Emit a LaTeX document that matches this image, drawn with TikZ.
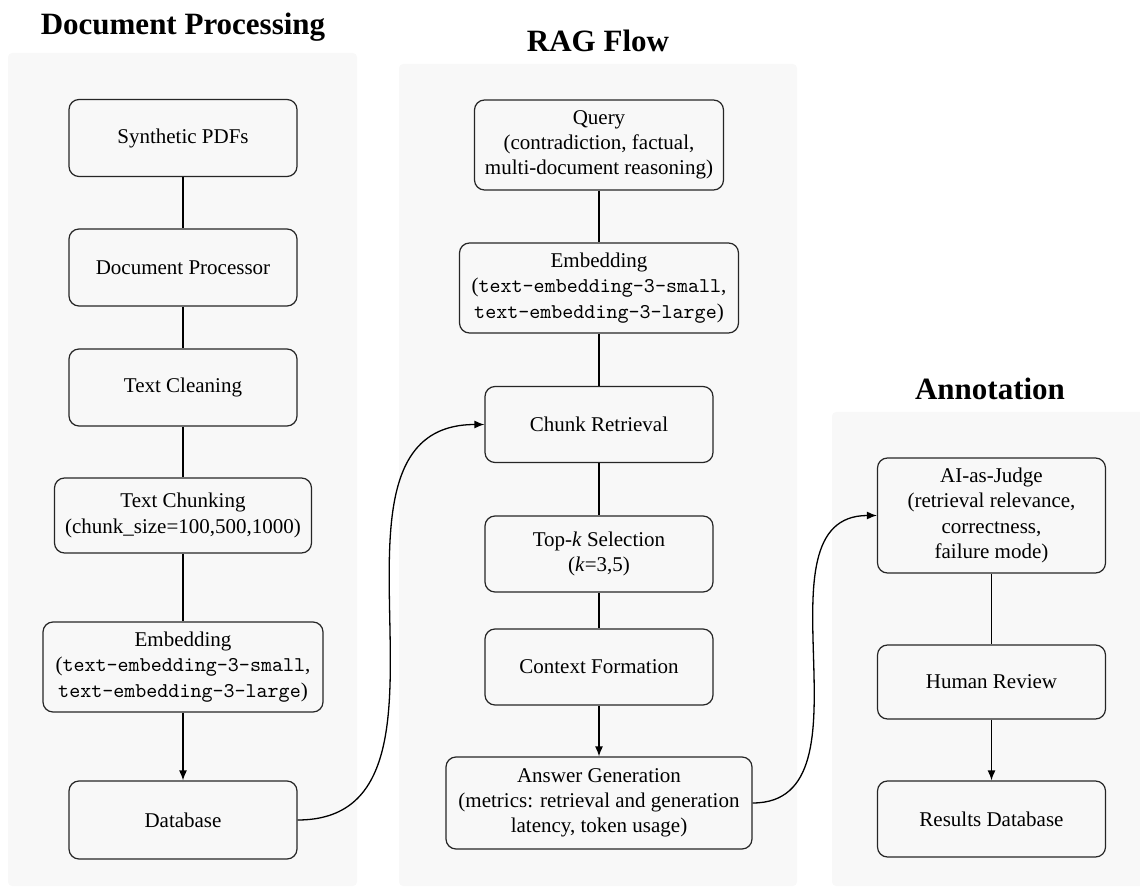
\documentclass[tikz,border=0pt]{standalone}
\usepackage{fontspec}
\setmainfont{Liberation Serif}
\usetikzlibrary{arrows.meta}
\definecolor{panelgray}{RGB}{248,248,248}
\begin{document}
\begin{tikzpicture}[x=0.5pt,y=-0.5pt,
  box/.style={draw=black!85,line width=0.6pt,rounded corners=5pt,align=center,
    font=\fontsize{10.5}{12.6}\selectfont,inner sep=2pt},
  ttl/.style={font=\fontsize{15.5}{18}\selectfont\bfseries,anchor=base,inner sep=0pt},
  ln/.style={draw=black,line width=0.65pt},
  arr/.style={ln,-{Latex[length=5pt,width=4pt]}}]
\useasboundingbox (0,0) rectangle (1140,892);
% panels
\fill[panelgray,rounded corners=2pt] (8,53) rectangle (357,886);
\fill[panelgray,rounded corners=2pt] (399,64) rectangle (797,886);
\fill[panelgray,rounded corners=2pt] (832,412) rectangle (1148,886);
% titles
\node[ttl] (t1) at (183,35) {Document Processing};
\node[ttl] (t2) at (598,52) {RAG Flow};
\node[ttl] (t3) at (990,400) {Annotation};
% column 1
\node[box,minimum width=114pt,minimum height=38.5pt] (syn) at (183,138) {Synthetic PDFs};
\node[box,minimum width=114pt,minimum height=38.5pt] (proc) at (183,267.5) {Document Processor};
\node[box,minimum width=114pt,minimum height=38.5pt] (clean) at (183,387.5) {Text Cleaning};
\node[box,minimum width=128.5pt,minimum height=37.5pt] (chunkg) at (183,515.5) {Text Chunking\\(chunk\_size=100,500,1000)};
\node[box,minimum width=140pt,minimum height=45pt] (emb1) at (183,667) {Embedding\\(\texttt{text-embedding-3-small},\\\texttt{text-embedding-3-large})};
\node[box,minimum width=114pt,minimum height=39pt] (db) at (183,820) {Database};
% column 2
\node[box,minimum width=124.5pt,minimum height=45pt] (query) at (599,145) {Query\\(contradiction, factual,\\multi-document reasoning)};
\node[box,minimum width=139.5pt,minimum height=45pt] (emb2) at (599,288) {Embedding\\(\texttt{text-embedding-3-small},\\\texttt{text-embedding-3-large})};
\node[box,minimum width=114pt,minimum height=38pt] (chunkr) at (599,424.5) {Chunk Retrieval};
\node[box,minimum width=114pt,minimum height=38pt] (topk) at (599,554) {Top-\textit{k} Selection\\(\textit{k}=3,5)};
\node[box,minimum width=114pt,minimum height=38pt] (ctx) at (599,667) {Context Formation};
\node[box,minimum width=153pt,minimum height=46pt] (ans) at (599,803) {Answer Generation\\(metrics: retrieval and generation\\latency, token usage)};
% column 3
\node[box,minimum width=114pt,minimum height=57.5pt] (judge) at (991.5,515.5) {AI-as-Judge\\(retrieval relevance,\\correctness,\\failure mode)};
\node[box,minimum width=114pt,minimum height=37pt] (human) at (991.5,682) {Human Review};
\node[box,minimum width=114pt,minimum height=38pt] (res) at (991.5,819) {Results Database};
% connectors
\draw[ln] (syn) -- (proc);
\draw[ln] (proc) -- (clean);
\draw[ln] (clean) -- (chunkg);
\draw[ln] (chunkg) -- (emb1);
\draw[arr] (emb1) -- (db);
\draw[ln] (query) -- (emb2);
\draw[ln] (emb2) -- (chunkr);
\draw[ln] (chunkr) -- (topk);
\draw[ln] (topk) -- (ctx);
\draw[arr] (ctx) -- (ans);
\draw[ln] (judge) -- (human);
\draw[arr] (human) -- (res);
\draw[arr] (db.east) .. controls +(190,0) and +(-190,0) .. (chunkr.west);
\draw[arr] (ans.east) .. controls +(128,0) and +(-128,0) .. (judge.west);
\end{tikzpicture}
\end{document}
